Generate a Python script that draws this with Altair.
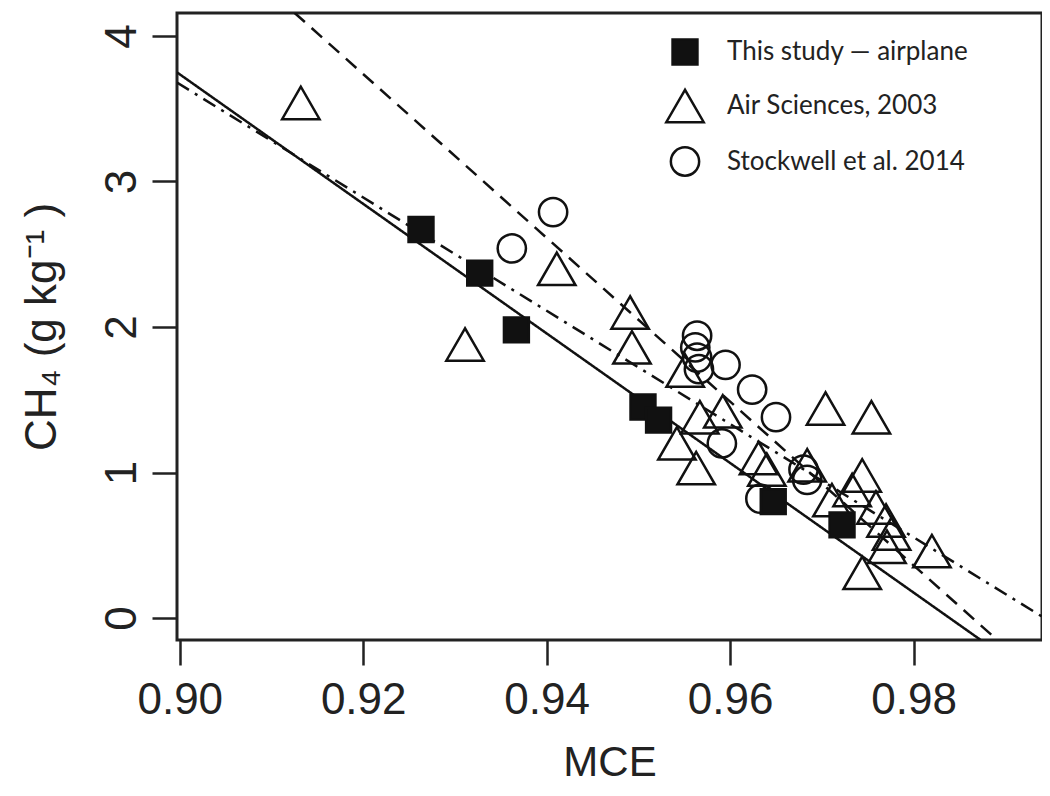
import altair as alt
import pandas as pd

# ---- data ----
sq_x = [0.9263, 0.9327, 0.9367, 0.9505, 0.9522, 0.9647, 0.9722]
sq_y = [2.67, 2.37, 1.98, 1.45, 1.36, 0.80, 0.64]

tri_x = [0.9132, 0.9311, 0.9411, 0.9491, 0.9493, 0.9551, 0.9592, 0.9567, 0.9542,
         0.9563, 0.9631, 0.9640, 0.9684, 0.9704, 0.9754, 0.9744, 0.9733, 0.9711,
         0.9759, 0.9770, 0.9776, 0.9771, 0.9820, 0.9744]
tri_y = [3.54, 1.88, 2.40, 2.10, 1.86, 1.70, 1.42, 1.38, 1.20,
         1.03, 1.10, 1.02, 1.05, 1.44, 1.38, 0.98, 0.88, 0.81,
         0.76, 0.67, 0.58, 0.49, 0.46, 0.31]

cir_x = [0.9362, 0.9407, 0.9564, 0.9562, 0.9564, 0.9566, 0.9595, 0.9624, 0.9650,
         0.9591, 0.9633, 0.9684, 0.9680]
cir_y = [2.54, 2.79, 1.94, 1.86, 1.79, 1.71, 1.74, 1.57, 1.38,
         1.20, 0.82, 0.95, 1.02]

series = ["This study \u2014 airplane", "Air Sciences, 2003", "Stockwell et al. 2014"]

# regression lines (end points read at the plot edges)
solid_x = [0.8997, 0.9873]
solid_y = [3.75, -0.15]
dashed_x = [0.9125, 0.9891]
dashed_y = [4.16, -0.15]
dashdot_x = [0.8997, 0.9940]
dashdot_y = [3.68, 0.01]

x_ticks = [0.90, 0.92, 0.94, 0.96, 0.98]
y_ticks = [0, 1, 2, 3, 4]
x_domain = [0.8997, 0.9940]
y_domain = [-0.151, 4.158]

# ---- tables ----
pts = pd.concat([
    pd.DataFrame({"MCE": tri_x, "CH4": tri_y, "src": series[1]}),
    pd.DataFrame({"MCE": cir_x, "CH4": cir_y, "src": series[2]}),
    pd.DataFrame({"MCE": sq_x, "CH4": sq_y, "src": series[0]}),
], ignore_index=True)

xs = alt.Scale(domain=x_domain, nice=False, zero=False)
ys = alt.Scale(domain=y_domain, nice=False, zero=False)

x_axis = alt.Axis(values=x_ticks, format=".2f", title="MCE", grid=False, domain=False,
                  tickSize=25, tickWidth=2.5, tickColor="#222", labelFontSize=44,
                  labelFont="Liberation Sans", labelColor="#222", labelPadding=13,
                  titleFont="Liberation Sans", titleFontSize=42, titleFontWeight="normal",
                  titleColor="#222", titlePadding=20)
y_axis = alt.Axis(values=y_ticks, format="d", title="CH\u2084 (g  kg\u207b\u00b9 )", grid=False,
                  domain=False, tickSize=25, tickWidth=2.5, tickColor="#222",
                  labelFontSize=44, labelFont="Liberation Sans", labelColor="#222",
                  labelAngle=-90, labelPadding=8,
                  titleFont="Liberation Sans", titleFontSize=44, titleFontWeight="normal",
                  titleColor="#222", titlePadding=36)

def line(xv, yv, dash):
    df = pd.DataFrame({"MCE": xv, "CH4": yv})
    m = alt.Chart(df).mark_line(clip=True, color="#111", strokeWidth=2.5,
                                strokeDash=dash if dash else [1, 0])
    return m.encode(x=alt.X("MCE:Q", scale=xs, axis=x_axis),
                    y=alt.Y("CH4:Q", scale=ys, axis=y_axis))

l1 = line(solid_x, solid_y, None)
l2 = line(dashed_x, dashed_y, [14, 9])
l3 = line(dashdot_x, dashdot_y, [14, 7, 3, 7])

points = alt.Chart(pts).mark_point(strokeWidth=2.5, opacity=1, clip=True).encode(
    x=alt.X("MCE:Q", scale=xs, axis=x_axis),
    y=alt.Y("CH4:Q", scale=ys, axis=y_axis),
    shape=alt.Shape("src:N", scale=alt.Scale(domain=series,
                    range=["square", "triangle-up", "circle"]), title=None),
    fill=alt.Fill("src:N", scale=alt.Scale(domain=series,
                  range=["#111", "transparent", "transparent"]), title=None),
    stroke=alt.Stroke("src:N", scale=alt.Scale(domain=series,
                      range=["#111", "#111", "#111"]), title=None),
    size=alt.Size("src:N", scale=alt.Scale(type="ordinal", domain=series,
                  range=[620, 1400, 800]), title=None),
)

chart = alt.layer(l1, l2, l3, points).properties(
    width=865, height=627,
    autosize=alt.AutoSizeParams(type="none"),
    padding={"left": 169, "top": 5, "right": 0, "bottom": 148},
    background="white",
).configure_view(
    stroke="#222", strokeWidth=3
).configure_legend(
    orient="none", legendX=488, legendY=25, labelFont="Lato", labelFontSize=26,
    labelColor="#222", symbolStrokeWidth=2.5, labelLimit=0,
    labelOffset=22, rowPadding=14, padding=0
)

chart.save("out.html", embed_options={"renderer": "svg", "actions": False})
